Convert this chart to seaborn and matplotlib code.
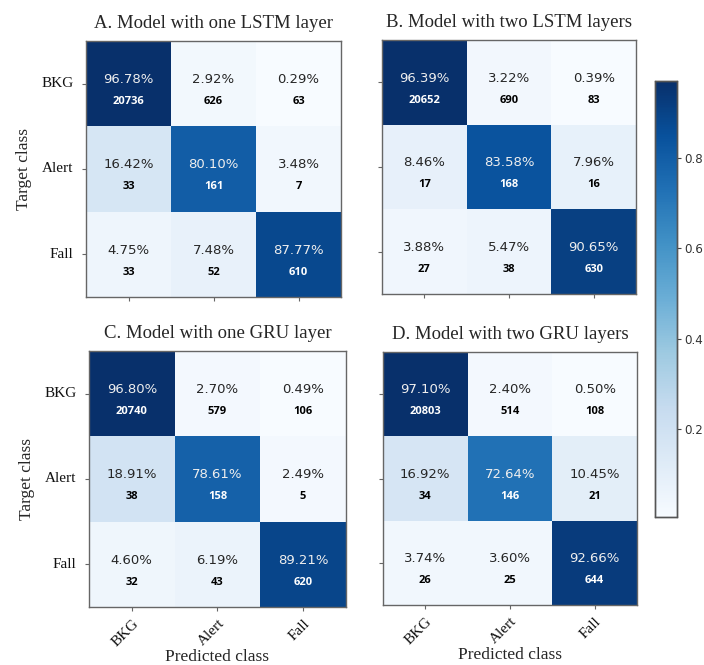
import numpy as np
import matplotlib
matplotlib.use("Agg")
import matplotlib.pyplot as plt
import seaborn as sns

classes = ["BKG", "Alert", "Fall"]

titles = [
    "A. Model with one LSTM layer",
    "B. Model with two LSTM layers",
    "C. Model with one GRU layer",
    "D. Model with two GRU layers",
]

# Confusion-matrix counts (rows: target class, columns: predicted class)
counts_lstm1 = [[20736, 626, 63], [33, 161, 7], [33, 52, 610]]
counts_lstm2 = [[20652, 690, 83], [17, 168, 16], [27, 38, 630]]
counts_gru1 = [[20740, 579, 106], [38, 158, 5], [32, 43, 620]]
counts_gru2 = [[20803, 514, 108], [34, 146, 21], [26, 25, 644]]

all_counts = [counts_lstm1, counts_lstm2, counts_gru1, counts_gru2]

sns.set_theme(style="white")
plt.rcParams["font.family"] = ["DejaVu Sans"]

fig = plt.figure(figsize=(7.04, 6.65), dpi=100)

# axes boxes [left, bottom, width, height] in figure fraction
boxes = [
    [0.1222, 0.5534, 0.3622, 0.3850],
    [0.5426, 0.5579, 0.3608, 0.3820],
    [0.1264, 0.0872, 0.3650, 0.3850],
    [0.5440, 0.0902, 0.3608, 0.3805],
]
cbar_ax = fig.add_axes([0.9304, 0.2226, 0.0313, 0.6556])

serif = "Liberation Serif"

for k, (counts, title, box) in enumerate(zip(all_counts, titles, boxes)):
    ax = fig.add_axes(box)
    cm = np.array(counts, dtype=float)
    frac = cm / cm.sum(axis=1, keepdims=True)
    last = k == 3
    sns.heatmap(
        frac, ax=ax, cmap="Blues", square=False, annot=False,
        cbar=last, cbar_ax=cbar_ax if last else None,
        xticklabels=classes, yticklabels=classes, linewidths=0,
    )
    hi = frac.max() / 2.0 + frac.min() / 2.0
    for i in range(3):
        for j in range(3):
            v = frac[i, j]
            dark = v > hi
            ax.text(j + 0.5, i + 0.45, f"{v * 100:.2f}%", ha="center", va="center",
                    fontsize=9.5, color="#eeeeee" if dark else "#262626")
            ax.text(j + 0.5, i + 0.71, f"{int(counts[i][j])}", ha="center", va="center",
                    fontsize=8, fontweight="bold", family="Open Sans",
                    color="white" if dark else "black")
    for s in ax.spines.values():
        s.set_visible(True)
        s.set_color("#666666")
        s.set_linewidth(1.0)
    ax.set_title(title, family=serif, fontsize=13.5, pad=9)
    ax.tick_params(axis="both", which="both", length=3, width=0.8, color="#666666",
                   left=True, bottom=True, pad=4)
    if k in (0, 2):
        ax.set_yticklabels(classes, rotation=0, family=serif, fontsize=11, color="#111111")
        ax.tick_params(axis="y", pad=6)
        ax.set_ylabel("Target class", family=serif, fontsize=12.5, labelpad=7)
    else:
        ax.set_yticklabels([])
    if k in (2, 3):
        ax.set_xticklabels(classes, rotation=45, ha="right", rotation_mode="anchor",
                           family=serif, fontsize=11, color="#111111")
        ax.set_xlabel("Predicted class", family=serif, fontsize=12.5, labelpad=0)
    else:
        ax.set_xticklabels([])

cbar_ax.set_yticks([0.2, 0.4, 0.6, 0.8])
cbar_ax.tick_params(length=3, width=0.8, color="#444444", labelsize=8.6,
                    labelcolor="#333333", right=True, pad=2)
for s in cbar_ax.spines.values():
    s.set_visible(True)
    s.set_color("#555555")
    s.set_linewidth(1.0)

fig.savefig("out.png", dpi=100)
